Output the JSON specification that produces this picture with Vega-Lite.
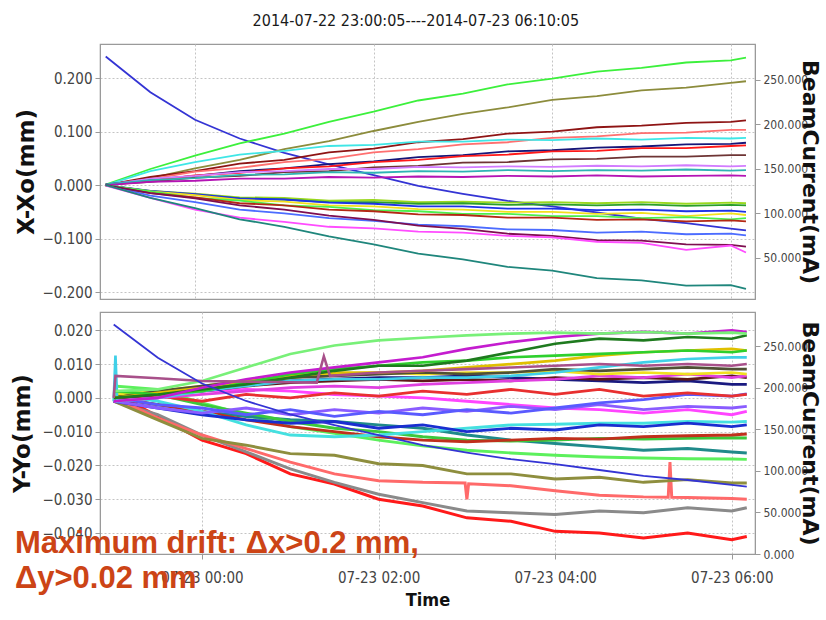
{
"$schema":"https://vega.github.io/schema/vega-lite/v6.json",
"background":"white",
"padding":{"left":10,"top":13,"right":0,"bottom":0},
"title":{"text":"2014-07-22 23:00:05----2014-07-23 06:10:05","font":"DejaVu Sans Condensed, Liberation Sans Narrow, sans-serif","fontSize":16,"fontWeight":"normal","color":"#1a1a1a","anchor":"middle","offset":14},
"spacing":10,
"config":{"view":{"stroke":"#9a9a9a","strokeWidth":1.2},
"axis":{"labelFont":"DejaVu Sans Condensed, Liberation Sans Narrow, sans-serif","labelFontSize":15,"labelColor":"#444","titleFont":"DejaVu Sans","titleFontWeight":"bold","titleFontSize":23,"titleColor":"#111","domainColor":"#9a9a9a","tickColor":"#9a9a9a","tickSize":5,"gridColor":"#c4c4c4","gridDash":[2,2],"gridWidth":1}},
"resolve":{"scale":{"x":"independent","y":"independent","color":"independent","strokeWidth":"independent"}},
"datasets":{
"I":[{"h":-1,"mA":276},{"h":-0.5,"mA":236},{"h":0,"mA":205},{"h":0.5,"mA":184},{"h":1,"mA":168},{"h":1.5,"mA":155},{"h":2,"mA":143},{"h":2.5,"mA":131},{"h":3,"mA":122},{"h":3.5,"mA":114},{"h":4,"mA":108},{"h":4.5,"mA":101},{"h":5,"mA":94},{"h":5.5,"mA":89},{"h":6,"mA":83},{"h":6.17,"mA":81}],
"T":[{"h":-2.118,"v":-0.0459,"t":["Maximum drift: Δx>0.2 mm,","Δy>0.02 mm"]}],
"X":[
{"s":"a01","h":-1,"v":0.001},{"s":"a01","h":-0.5,"v":0.03},{"s":"a01","h":0,"v":0.055},{"s":"a01","h":0.5,"v":0.078},{"s":"a01","h":1,"v":0.096},{"s":"a01","h":1.5,"v":0.118},{"s":"a01","h":2,"v":0.137},{"s":"a01","h":2.5,"v":0.158},{"s":"a01","h":3,"v":0.171},{"s":"a01","h":3.5,"v":0.188},{"s":"a01","h":4,"v":0.199},{"s":"a01","h":4.5,"v":0.212},{"s":"a01","h":5,"v":0.219},{"s":"a01","h":5.5,"v":0.229},{"s":"a01","h":6,"v":0.233},{"s":"a01","h":6.17,"v":0.238},
{"s":"a02","h":-1,"v":0},{"s":"a02","h":-0.5,"v":0.013},{"s":"a02","h":0,"v":0.031},{"s":"a02","h":0.5,"v":0.047},{"s":"a02","h":1,"v":0.067},{"s":"a02","h":1.5,"v":0.082},{"s":"a02","h":2,"v":0.101},{"s":"a02","h":2.5,"v":0.118},{"s":"a02","h":3,"v":0.133},{"s":"a02","h":3.5,"v":0.145},{"s":"a02","h":4,"v":0.159},{"s":"a02","h":4.5,"v":0.166},{"s":"a02","h":5,"v":0.177},{"s":"a02","h":5.5,"v":0.182},{"s":"a02","h":6,"v":0.191},{"s":"a02","h":6.17,"v":0.194},
{"s":"a03","h":-1,"v":0},{"s":"a03","h":-0.5,"v":0.015},{"s":"a03","h":0,"v":0.026},{"s":"a03","h":0.5,"v":0.04},{"s":"a03","h":1,"v":0.047},{"s":"a03","h":1.5,"v":0.061},{"s":"a03","h":2,"v":0.068},{"s":"a03","h":2.5,"v":0.08},{"s":"a03","h":3,"v":0.086},{"s":"a03","h":3.5,"v":0.096},{"s":"a03","h":4,"v":0.1},{"s":"a03","h":4.5,"v":0.108},{"s":"a03","h":5,"v":0.111},{"s":"a03","h":5.5,"v":0.116},{"s":"a03","h":6,"v":0.118},{"s":"a03","h":6.17,"v":0.121},
{"s":"a04","h":-1,"v":0.001},{"s":"a04","h":-0.5,"v":0.011},{"s":"a04","h":0,"v":0.025},{"s":"a04","h":0.5,"v":0.032},{"s":"a04","h":1,"v":0.043},{"s":"a04","h":1.5,"v":0.049},{"s":"a04","h":2,"v":0.061},{"s":"a04","h":2.5,"v":0.067},{"s":"a04","h":3,"v":0.076},{"s":"a04","h":3.5,"v":0.08},{"s":"a04","h":4,"v":0.088},{"s":"a04","h":4.5,"v":0.091},{"s":"a04","h":5,"v":0.097},{"s":"a04","h":5.5,"v":0.098},{"s":"a04","h":6,"v":0.103},{"s":"a04","h":6.17,"v":0.103},
{"s":"a05","h":-1,"v":0},{"s":"a05","h":-0.5,"v":0.026},{"s":"a05","h":0,"v":0.043},{"s":"a05","h":0.5,"v":0.057},{"s":"a05","h":1,"v":0.064},{"s":"a05","h":1.5,"v":0.073},{"s":"a05","h":2,"v":0.075},{"s":"a05","h":2.5,"v":0.081},{"s":"a05","h":3,"v":0.081},{"s":"a05","h":3.5,"v":0.085},{"s":"a05","h":4,"v":0.084},{"s":"a05","h":4.5,"v":0.087},{"s":"a05","h":5,"v":0.085},{"s":"a05","h":5.5,"v":0.088},{"s":"a05","h":6,"v":0.087},{"s":"a05","h":6.17,"v":0.088},
{"s":"a06","h":-1,"v":0.001},{"s":"a06","h":-0.5,"v":0.01},{"s":"a06","h":0,"v":0.017},{"s":"a06","h":0.5,"v":0.026},{"s":"a06","h":1,"v":0.031},{"s":"a06","h":1.5,"v":0.039},{"s":"a06","h":2,"v":0.044},{"s":"a06","h":2.5,"v":0.052},{"s":"a06","h":3,"v":0.056},{"s":"a06","h":3.5,"v":0.063},{"s":"a06","h":4,"v":0.065},{"s":"a06","h":4.5,"v":0.07},{"s":"a06","h":5,"v":0.072},{"s":"a06","h":5.5,"v":0.076},{"s":"a06","h":6,"v":0.077},{"s":"a06","h":6.17,"v":0.079},
{"s":"a07","h":-1,"v":0},{"s":"a07","h":-0.5,"v":0.008},{"s":"a07","h":0,"v":0.018},{"s":"a07","h":0.5,"v":0.023},{"s":"a07","h":1,"v":0.031},{"s":"a07","h":1.5,"v":0.035},{"s":"a07","h":2,"v":0.043},{"s":"a07","h":2.5,"v":0.047},{"s":"a07","h":3,"v":0.054},{"s":"a07","h":3.5,"v":0.057},{"s":"a07","h":4,"v":0.063},{"s":"a07","h":4.5,"v":0.064},{"s":"a07","h":5,"v":0.069},{"s":"a07","h":5.5,"v":0.069},{"s":"a07","h":6,"v":0.073},{"s":"a07","h":6.17,"v":0.074},
{"s":"a08","h":-1,"v":0.001},{"s":"a08","h":-0.5,"v":0.006},{"s":"a08","h":0,"v":0.014},{"s":"a08","h":0.5,"v":0.017},{"s":"a08","h":1,"v":0.024},{"s":"a08","h":1.5,"v":0.026},{"s":"a08","h":2,"v":0.033},{"s":"a08","h":2.5,"v":0.036},{"s":"a08","h":3,"v":0.042},{"s":"a08","h":3.5,"v":0.043},{"s":"a08","h":4,"v":0.048},{"s":"a08","h":4.5,"v":0.049},{"s":"a08","h":5,"v":0.053},{"s":"a08","h":5.5,"v":0.053},{"s":"a08","h":6,"v":0.056},{"s":"a08","h":6.17,"v":0.056},
{"s":"a09","h":-1,"v":0},{"s":"a09","h":-0.5,"v":0.012},{"s":"a09","h":0,"v":0.017},{"s":"a09","h":0.5,"v":0.024},{"s":"a09","h":1,"v":0.026},{"s":"a09","h":1.5,"v":0.03},{"s":"a09","h":2,"v":0.03},{"s":"a09","h":2.5,"v":0.034},{"s":"a09","h":3,"v":0.033},{"s":"a09","h":3.5,"v":0.035},{"s":"a09","h":4,"v":0.034},{"s":"a09","h":4.5,"v":0.036},{"s":"a09","h":5,"v":0.035},{"s":"a09","h":5.5,"v":0.037},{"s":"a09","h":6,"v":0.035},{"s":"a09","h":6.17,"v":0.036},
{"s":"a10","h":-1,"v":0.001},{"s":"a10","h":-0.5,"v":0.009},{"s":"a10","h":0,"v":0.013},{"s":"a10","h":0.5,"v":0.019},{"s":"a10","h":1,"v":0.02},{"s":"a10","h":1.5,"v":0.024},{"s":"a10","h":2,"v":0.023},{"s":"a10","h":2.5,"v":0.026},{"s":"a10","h":3,"v":0.025},{"s":"a10","h":3.5,"v":0.028},{"s":"a10","h":4,"v":0.026},{"s":"a10","h":4.5,"v":0.028},{"s":"a10","h":5,"v":0.027},{"s":"a10","h":5.5,"v":0.029},{"s":"a10","h":6,"v":0.027},{"s":"a10","h":6.17,"v":0.028},
{"s":"a11","h":-1,"v":0},{"s":"a11","h":-0.5,"v":0.006},{"s":"a11","h":0,"v":0.008},{"s":"a11","h":0.5,"v":0.012},{"s":"a11","h":1,"v":0.012},{"s":"a11","h":1.5,"v":0.015},{"s":"a11","h":2,"v":0.014},{"s":"a11","h":2.5,"v":0.016},{"s":"a11","h":3,"v":0.015},{"s":"a11","h":3.5,"v":0.017},{"s":"a11","h":4,"v":0.016},{"s":"a11","h":4.5,"v":0.018},{"s":"a11","h":5,"v":0.016},{"s":"a11","h":5.5,"v":0.017},{"s":"a11","h":6,"v":0.018},{"s":"a11","h":6.17,"v":0.017},
{"s":"a12","h":-1,"v":-0.001},{"s":"a12","h":-0.5,"v":-0.011},{"s":"a12","h":0,"v":-0.016},{"s":"a12","h":0.5,"v":-0.023},{"s":"a12","h":1,"v":-0.024},{"s":"a12","h":1.5,"v":-0.029},{"s":"a12","h":2,"v":-0.028},{"s":"a12","h":2.5,"v":-0.032},{"s":"a12","h":3,"v":-0.031},{"s":"a12","h":3.5,"v":-0.033},{"s":"a12","h":4,"v":-0.032},{"s":"a12","h":4.5,"v":-0.034},{"s":"a12","h":5,"v":-0.032},{"s":"a12","h":5.5,"v":-0.035},{"s":"a12","h":6,"v":-0.033},{"s":"a12","h":6.17,"v":-0.034},
{"s":"a13","h":-1,"v":0},{"s":"a13","h":-0.5,"v":-0.012},{"s":"a13","h":0,"v":-0.018},{"s":"a13","h":0.5,"v":-0.025},{"s":"a13","h":1,"v":-0.027},{"s":"a13","h":1.5,"v":-0.032},{"s":"a13","h":2,"v":-0.032},{"s":"a13","h":2.5,"v":-0.035},{"s":"a13","h":3,"v":-0.034},{"s":"a13","h":3.5,"v":-0.037},{"s":"a13","h":4,"v":-0.036},{"s":"a13","h":4.5,"v":-0.038},{"s":"a13","h":5,"v":-0.036},{"s":"a13","h":5.5,"v":-0.039},{"s":"a13","h":6,"v":-0.037},{"s":"a13","h":6.17,"v":-0.038},
{"s":"a14","h":-1,"v":0},{"s":"a14","h":-0.5,"v":-0.011},{"s":"a14","h":0,"v":-0.017},{"s":"a14","h":0.5,"v":-0.025},{"s":"a14","h":1,"v":-0.027},{"s":"a14","h":1.5,"v":-0.033},{"s":"a14","h":2,"v":-0.035},{"s":"a14","h":2.5,"v":-0.04},{"s":"a14","h":3,"v":-0.04},{"s":"a14","h":3.5,"v":-0.044},{"s":"a14","h":4,"v":-0.044},{"s":"a14","h":4.5,"v":-0.047},{"s":"a14","h":5,"v":-0.046},{"s":"a14","h":5.5,"v":-0.049},{"s":"a14","h":6,"v":-0.048},{"s":"a14","h":6.17,"v":-0.05},
{"s":"a15","h":-1,"v":-0.001},{"s":"a15","h":-0.5,"v":-0.012},{"s":"a15","h":0,"v":-0.019},{"s":"a15","h":0.5,"v":-0.028},{"s":"a15","h":1,"v":-0.031},{"s":"a15","h":1.5,"v":-0.038},{"s":"a15","h":2,"v":-0.04},{"s":"a15","h":2.5,"v":-0.045},{"s":"a15","h":3,"v":-0.046},{"s":"a15","h":3.5,"v":-0.05},{"s":"a15","h":4,"v":-0.05},{"s":"a15","h":4.5,"v":-0.054},{"s":"a15","h":5,"v":-0.052},{"s":"a15","h":5.5,"v":-0.058},{"s":"a15","h":6,"v":-0.053},{"s":"a15","h":6.17,"v":-0.056},
{"s":"a16","h":-1,"v":0},{"s":"a16","h":-0.5,"v":-0.012},{"s":"a16","h":0,"v":-0.024},{"s":"a16","h":0.5,"v":-0.029},{"s":"a16","h":1,"v":-0.038},{"s":"a16","h":1.5,"v":-0.041},{"s":"a16","h":2,"v":-0.047},{"s":"a16","h":2.5,"v":-0.049},{"s":"a16","h":3,"v":-0.054},{"s":"a16","h":3.5,"v":-0.054},{"s":"a16","h":4,"v":-0.058},{"s":"a16","h":4.5,"v":-0.058},{"s":"a16","h":5,"v":-0.062},{"s":"a16","h":5.5,"v":-0.06},{"s":"a16","h":6,"v":-0.064},{"s":"a16","h":6.17,"v":-0.062},
{"s":"a17","h":-1,"v":-0.001},{"s":"a17","h":-0.5,"v":-0.015},{"s":"a17","h":0,"v":-0.023},{"s":"a17","h":0.5,"v":-0.034},{"s":"a17","h":1,"v":-0.038},{"s":"a17","h":1.5,"v":-0.046},{"s":"a17","h":2,"v":-0.049},{"s":"a17","h":2.5,"v":-0.055},{"s":"a17","h":3,"v":-0.056},{"s":"a17","h":3.5,"v":-0.061},{"s":"a17","h":4,"v":-0.061},{"s":"a17","h":4.5,"v":-0.065},{"s":"a17","h":5,"v":-0.064},{"s":"a17","h":5.5,"v":-0.068},{"s":"a17","h":6,"v":-0.066},{"s":"a17","h":6.17,"v":-0.068},
{"s":"a18","h":-1,"v":0},{"s":"a18","h":-0.5,"v":-0.02},{"s":"a18","h":0,"v":-0.032},{"s":"a18","h":0.5,"v":-0.046},{"s":"a18","h":1,"v":-0.053},{"s":"a18","h":1.5,"v":-0.062},{"s":"a18","h":2,"v":-0.067},{"s":"a18","h":2.5,"v":-0.074},{"s":"a18","h":3,"v":-0.077},{"s":"a18","h":3.5,"v":-0.083},{"s":"a18","h":4,"v":-0.084},{"s":"a18","h":4.5,"v":-0.089},{"s":"a18","h":5,"v":-0.087},{"s":"a18","h":5.5,"v":-0.092},{"s":"a18","h":6,"v":-0.091},{"s":"a18","h":6.17,"v":-0.094},
{"s":"a19","h":-1,"v":0},{"s":"a19","h":-0.5,"v":-0.015},{"s":"a19","h":0,"v":-0.025},{"s":"a19","h":0.5,"v":-0.038},{"s":"a19","h":1,"v":-0.046},{"s":"a19","h":1.5,"v":-0.057},{"s":"a19","h":2,"v":-0.065},{"s":"a19","h":2.5,"v":-0.076},{"s":"a19","h":3,"v":-0.082},{"s":"a19","h":3.5,"v":-0.091},{"s":"a19","h":4,"v":-0.095},{"s":"a19","h":4.5,"v":-0.103},{"s":"a19","h":5,"v":-0.104},{"s":"a19","h":5.5,"v":-0.111},{"s":"a19","h":6,"v":-0.112},{"s":"a19","h":6.17,"v":-0.115},
{"s":"a20","h":-1,"v":-0.001},{"s":"a20","h":-0.5,"v":-0.024},{"s":"a20","h":0,"v":-0.046},{"s":"a20","h":0.5,"v":-0.061},{"s":"a20","h":1,"v":-0.069},{"s":"a20","h":1.5,"v":-0.078},{"s":"a20","h":2,"v":-0.081},{"s":"a20","h":2.5,"v":-0.087},{"s":"a20","h":3,"v":-0.089},{"s":"a20","h":3.5,"v":-0.095},{"s":"a20","h":4,"v":-0.098},{"s":"a20","h":4.5,"v":-0.106},{"s":"a20","h":5,"v":-0.108},{"s":"a20","h":5.5,"v":-0.121},{"s":"a20","h":6,"v":-0.113},{"s":"a20","h":6.17,"v":-0.126},
{"s":"a21","h":-1,"v":0},{"s":"a21","h":-0.5,"v":-0.024},{"s":"a21","h":0,"v":-0.043},{"s":"a21","h":0.5,"v":-0.064},{"s":"a21","h":1,"v":-0.078},{"s":"a21","h":1.5,"v":-0.096},{"s":"a21","h":2,"v":-0.111},{"s":"a21","h":2.5,"v":-0.128},{"s":"a21","h":3,"v":-0.139},{"s":"a21","h":3.5,"v":-0.153},{"s":"a21","h":4,"v":-0.16},{"s":"a21","h":4.5,"v":-0.174},{"s":"a21","h":5,"v":-0.178},{"s":"a21","h":5.5,"v":-0.188},{"s":"a21","h":6,"v":-0.187},{"s":"a21","h":6.17,"v":-0.194}
],
"Y":[
{"s":"b01","h":-1,"v":0.0015},{"s":"b01","h":-0.5,"v":-0.0055},{"s":"b01","h":0,"v":-0.0125},{"s":"b01","h":0.5,"v":-0.0165},{"s":"b01","h":1,"v":-0.0225},{"s":"b01","h":1.5,"v":-0.0255},{"s":"b01","h":2,"v":-0.03},{"s":"b01","h":2.5,"v":-0.032},{"s":"b01","h":3,"v":-0.0355},{"s":"b01","h":3.5,"v":-0.0365},{"s":"b01","h":4,"v":-0.0395},{"s":"b01","h":4.5,"v":-0.04},{"s":"b01","h":5,"v":-0.0415},{"s":"b01","h":5.5,"v":-0.04},{"s":"b01","h":6,"v":-0.042},{"s":"b01","h":6.17,"v":-0.041},
{"s":"b02","h":-1,"v":-0.001},{"s":"b02","h":-0.5,"v":-0.005},{"s":"b02","h":0,"v":-0.011},{"s":"b02","h":0.5,"v":-0.016},{"s":"b02","h":1,"v":-0.021},{"s":"b02","h":1.5,"v":-0.025},{"s":"b02","h":2,"v":-0.0285},{"s":"b02","h":2.5,"v":-0.031},{"s":"b02","h":3,"v":-0.0335},{"s":"b02","h":3.5,"v":-0.034},{"s":"b02","h":4,"v":-0.0345},{"s":"b02","h":4.5,"v":-0.0335},{"s":"b02","h":5,"v":-0.034},{"s":"b02","h":5.5,"v":-0.0325},{"s":"b02","h":6,"v":-0.0335},{"s":"b02","h":6.17,"v":-0.0325},
{"s":"b03","h":-1,"v":0},{"s":"b03","h":-0.5,"v":-0.006},{"s":"b03","h":0,"v":-0.011},{"s":"b03","h":0.5,"v":-0.015},{"s":"b03","h":1,"v":-0.019},{"s":"b03","h":1.5,"v":-0.0225},{"s":"b03","h":2,"v":-0.0245},{"s":"b03","h":2.5,"v":-0.025},{"s":"b03","h":2.98,"v":-0.0252},{"s":"b03","h":3,"v":-0.03},{"s":"b03","h":3.02,"v":-0.0254},{"s":"b03","h":3.5,"v":-0.026},{"s":"b03","h":4,"v":-0.0275},{"s":"b03","h":4.5,"v":-0.0288},{"s":"b03","h":5,"v":-0.0293},{"s":"b03","h":5.28,"v":-0.0294},{"s":"b03","h":5.3,"v":-0.019},{"s":"b03","h":5.32,"v":-0.0294},{"s":"b03","h":5.5,"v":-0.0295},{"s":"b03","h":6,"v":-0.0298},{"s":"b03","h":6.17,"v":-0.03},
{"s":"b04","h":-1,"v":-0.001},{"s":"b04","h":-0.5,"v":-0.0065},{"s":"b04","h":0,"v":-0.012},{"s":"b04","h":0.5,"v":-0.014},{"s":"b04","h":1,"v":-0.0165},{"s":"b04","h":1.5,"v":-0.017},{"s":"b04","h":2,"v":-0.0195},{"s":"b04","h":2.5,"v":-0.02},{"s":"b04","h":3,"v":-0.0225},{"s":"b04","h":3.5,"v":-0.0225},{"s":"b04","h":4,"v":-0.024},{"s":"b04","h":4.5,"v":-0.0235},{"s":"b04","h":5,"v":-0.025},{"s":"b04","h":5.5,"v":-0.0242},{"s":"b04","h":6,"v":-0.0252},{"s":"b04","h":6.17,"v":-0.0252},
{"s":"b05","h":-1,"v":0.0035},{"s":"b05","h":-0.5,"v":0.0025},{"s":"b05","h":0,"v":-0.0015},{"s":"b05","h":0.5,"v":-0.005},{"s":"b05","h":1,"v":-0.0085},{"s":"b05","h":1.5,"v":-0.0105},{"s":"b05","h":2,"v":-0.0125},{"s":"b05","h":2.5,"v":-0.0142},{"s":"b05","h":3,"v":-0.0155},{"s":"b05","h":3.5,"v":-0.0163},{"s":"b05","h":4,"v":-0.017},{"s":"b05","h":4.5,"v":-0.0175},{"s":"b05","h":5,"v":-0.0178},{"s":"b05","h":5.5,"v":-0.018},{"s":"b05","h":6,"v":-0.0181},{"s":"b05","h":6.17,"v":-0.0182},
{"s":"b06","h":-1,"v":0},{"s":"b06","h":-0.5,"v":-0.002},{"s":"b06","h":0,"v":-0.004},{"s":"b06","h":0.5,"v":-0.0055},{"s":"b06","h":1,"v":-0.0065},{"s":"b06","h":1.5,"v":-0.007},{"s":"b06","h":2,"v":-0.008},{"s":"b06","h":2.5,"v":-0.009},{"s":"b06","h":3,"v":-0.011},{"s":"b06","h":3.5,"v":-0.0125},{"s":"b06","h":4,"v":-0.0135},{"s":"b06","h":4.5,"v":-0.0145},{"s":"b06","h":5,"v":-0.0155},{"s":"b06","h":5.5,"v":-0.015},{"s":"b06","h":6,"v":-0.016},{"s":"b06","h":6.17,"v":-0.0163},
{"s":"b07","h":-1,"v":0.002},{"s":"b07","h":-0.5,"v":0.001},{"s":"b07","h":0,"v":-0.002},{"s":"b07","h":0.5,"v":-0.0045},{"s":"b07","h":1,"v":-0.007},{"s":"b07","h":1.5,"v":-0.009},{"s":"b07","h":2,"v":-0.01},{"s":"b07","h":2.5,"v":-0.0115},{"s":"b07","h":3,"v":-0.0125},{"s":"b07","h":3.5,"v":-0.0128},{"s":"b07","h":4,"v":-0.0125},{"s":"b07","h":4.5,"v":-0.012},{"s":"b07","h":5,"v":-0.0122},{"s":"b07","h":5.5,"v":-0.012},{"s":"b07","h":6,"v":-0.0118},{"s":"b07","h":6.17,"v":-0.0119},
{"s":"b08","h":-1,"v":0},{"s":"b08","h":-0.5,"v":-0.002},{"s":"b08","h":0,"v":-0.004},{"s":"b08","h":0.5,"v":-0.0065},{"s":"b08","h":1,"v":-0.0085},{"s":"b08","h":1.5,"v":-0.01},{"s":"b08","h":2,"v":-0.0115},{"s":"b08","h":2.5,"v":-0.0125},{"s":"b08","h":3,"v":-0.013},{"s":"b08","h":3.5,"v":-0.0125},{"s":"b08","h":4,"v":-0.012},{"s":"b08","h":4.5,"v":-0.0122},{"s":"b08","h":5,"v":-0.0115},{"s":"b08","h":5.5,"v":-0.0112},{"s":"b08","h":6,"v":-0.011},{"s":"b08","h":6.17,"v":-0.0107},
{"s":"b09","h":-1,"v":0.001},{"s":"b09","h":-0.5,"v":-0.001},{"s":"b09","h":0,"v":-0.004},{"s":"b09","h":0.5,"v":-0.008},{"s":"b09","h":1,"v":-0.011},{"s":"b09","h":1.5,"v":-0.0115},{"s":"b09","h":2,"v":-0.011},{"s":"b09","h":2.5,"v":-0.01},{"s":"b09","h":3,"v":-0.009},{"s":"b09","h":3.5,"v":-0.008},{"s":"b09","h":4,"v":-0.0078},{"s":"b09","h":4.5,"v":-0.0075},{"s":"b09","h":5,"v":-0.0075},{"s":"b09","h":5.5,"v":-0.007},{"s":"b09","h":6,"v":-0.0072},{"s":"b09","h":6.17,"v":-0.007},
{"s":"b10","h":-1,"v":-0.001},{"s":"b10","h":-0.5,"v":-0.003},{"s":"b10","h":0,"v":-0.005},{"s":"b10","h":0.5,"v":-0.0065},{"s":"b10","h":1,"v":-0.0075},{"s":"b10","h":1.5,"v":-0.007},{"s":"b10","h":2,"v":-0.009},{"s":"b10","h":2.5,"v":-0.008},{"s":"b10","h":3,"v":-0.01},{"s":"b10","h":3.5,"v":-0.009},{"s":"b10","h":4,"v":-0.0095},{"s":"b10","h":4.5,"v":-0.008},{"s":"b10","h":5,"v":-0.0085},{"s":"b10","h":5.5,"v":-0.0075},{"s":"b10","h":6,"v":-0.0085},{"s":"b10","h":6.17,"v":-0.008},
{"s":"b11","h":-1,"v":0},{"s":"b11","h":-0.5,"v":0.001},{"s":"b11","h":0,"v":0.002},{"s":"b11","h":0.5,"v":0.0025},{"s":"b11","h":1,"v":0.002},{"s":"b11","h":1.5,"v":0.001},{"s":"b11","h":2,"v":0.0005},{"s":"b11","h":2.5,"v":0},{"s":"b11","h":3,"v":-0.001},{"s":"b11","h":3.5,"v":-0.002},{"s":"b11","h":4,"v":-0.003},{"s":"b11","h":4.5,"v":-0.0035},{"s":"b11","h":5,"v":-0.0045},{"s":"b11","h":5.5,"v":-0.0035},{"s":"b11","h":6,"v":-0.005},{"s":"b11","h":6.17,"v":-0.004},
{"s":"b12","h":-1,"v":-0.001},{"s":"b12","h":-0.5,"v":-0.003},{"s":"b12","h":0,"v":-0.0045},{"s":"b12","h":0.5,"v":-0.003},{"s":"b12","h":1,"v":-0.005},{"s":"b12","h":1.5,"v":-0.0035},{"s":"b12","h":2,"v":-0.0045},{"s":"b12","h":2.5,"v":-0.003},{"s":"b12","h":3,"v":-0.004},{"s":"b12","h":3.5,"v":-0.0025},{"s":"b12","h":4,"v":-0.0035},{"s":"b12","h":4.5,"v":-0.002},{"s":"b12","h":5,"v":-0.0035},{"s":"b12","h":5.5,"v":-0.0025},{"s":"b12","h":6,"v":-0.003},{"s":"b12","h":6.17,"v":-0.0025},
{"s":"b13","h":-1,"v":0},{"s":"b13","h":-0.5,"v":-0.002},{"s":"b13","h":0,"v":-0.003},{"s":"b13","h":0.5,"v":-0.005},{"s":"b13","h":1,"v":-0.0035},{"s":"b13","h":1.5,"v":-0.0055},{"s":"b13","h":2,"v":-0.004},{"s":"b13","h":2.5,"v":-0.005},{"s":"b13","h":3,"v":-0.0035},{"s":"b13","h":3.5,"v":-0.0045},{"s":"b13","h":4,"v":-0.003},{"s":"b13","h":4.5,"v":-0.0015},{"s":"b13","h":5,"v":-0.0005},{"s":"b13","h":5.5,"v":0.001},{"s":"b13","h":6,"v":0.0005},{"s":"b13","h":6.17,"v":0.0012},
{"s":"b14","h":-1,"v":0},{"s":"b14","h":-0.5,"v":0.0005},{"s":"b14","h":0,"v":-0.001},{"s":"b14","h":0.5,"v":0.001},{"s":"b14","h":1,"v":0},{"s":"b14","h":1.5,"v":0.0015},{"s":"b14","h":2,"v":0.0005},{"s":"b14","h":2.5,"v":0.002},{"s":"b14","h":3,"v":0.001},{"s":"b14","h":3.5,"v":0.0025},{"s":"b14","h":4,"v":0.001},{"s":"b14","h":4.5,"v":0.0025},{"s":"b14","h":5,"v":0.0005},{"s":"b14","h":5.5,"v":0.0015},{"s":"b14","h":6,"v":0.0005},{"s":"b14","h":6.17,"v":0.001},
{"s":"b15","h":-1,"v":0},{"s":"b15","h":-0.5,"v":0.001},{"s":"b15","h":0,"v":0.003},{"s":"b15","h":0.5,"v":0.004},{"s":"b15","h":1,"v":0.005},{"s":"b15","h":1.5,"v":0.0055},{"s":"b15","h":2,"v":0.006},{"s":"b15","h":2.5,"v":0.006},{"s":"b15","h":3,"v":0.0065},{"s":"b15","h":3.5,"v":0.006},{"s":"b15","h":4,"v":0.0055},{"s":"b15","h":4.5,"v":0.005},{"s":"b15","h":5,"v":0.0045},{"s":"b15","h":5.5,"v":0.005},{"s":"b15","h":6,"v":0.004},{"s":"b15","h":6.17,"v":0.004},
{"s":"b16","h":-1,"v":0.0005},{"s":"b16","h":-0.5,"v":0.0015},{"s":"b16","h":0,"v":0.002},{"s":"b16","h":0.5,"v":0.0035},{"s":"b16","h":1,"v":0.0045},{"s":"b16","h":1.5,"v":0.005},{"s":"b16","h":2,"v":0.0055},{"s":"b16","h":2.5,"v":0.005},{"s":"b16","h":3,"v":0.0055},{"s":"b16","h":3.5,"v":0.005},{"s":"b16","h":4,"v":0.006},{"s":"b16","h":4.5,"v":0.0055},{"s":"b16","h":5,"v":0.006},{"s":"b16","h":5.5,"v":0.0055},{"s":"b16","h":6,"v":0.0065},{"s":"b16","h":6.17,"v":0.006},
{"s":"b17","h":-1,"v":-0.001},{"s":"b17","h":-0.5,"v":0},{"s":"b17","h":0,"v":0.001},{"s":"b17","h":0.5,"v":0.002},{"s":"b17","h":1,"v":0.003},{"s":"b17","h":1.5,"v":0.0035},{"s":"b17","h":2,"v":0.003},{"s":"b17","h":2.5,"v":0.004},{"s":"b17","h":3,"v":0.0045},{"s":"b17","h":3.5,"v":0.005},{"s":"b17","h":4,"v":0.0055},{"s":"b17","h":4.5,"v":0.0065},{"s":"b17","h":5,"v":0.006},{"s":"b17","h":5.5,"v":0.007},{"s":"b17","h":6,"v":0.006},{"s":"b17","h":6.17,"v":0.0065},
{"s":"b18","h":-1,"v":0.001},{"s":"b18","h":-0.5,"v":0.002},{"s":"b18","h":0,"v":0.0035},{"s":"b18","h":0.5,"v":0.005},{"s":"b18","h":1,"v":0.006},{"s":"b18","h":1.5,"v":0.007},{"s":"b18","h":2,"v":0.0075},{"s":"b18","h":2.5,"v":0.007},{"s":"b18","h":3,"v":0.0075},{"s":"b18","h":3.5,"v":0.0075},{"s":"b18","h":4,"v":0.008},{"s":"b18","h":4.5,"v":0.007},{"s":"b18","h":5,"v":0.0075},{"s":"b18","h":5.5,"v":0.007},{"s":"b18","h":6,"v":0.0075},{"s":"b18","h":6.17,"v":0.007},
{"s":"b19","h":-1,"v":0},{"s":"b19","h":-0.5,"v":0.002},{"s":"b19","h":0,"v":0.0035},{"s":"b19","h":0.5,"v":0.005},{"s":"b19","h":1,"v":0.006},{"s":"b19","h":1.5,"v":0.0065},{"s":"b19","h":2,"v":0.007},{"s":"b19","h":2.5,"v":0.0075},{"s":"b19","h":3,"v":0.007},{"s":"b19","h":3.5,"v":0.0075},{"s":"b19","h":4,"v":0.0085},{"s":"b19","h":4.5,"v":0.008},{"s":"b19","h":5,"v":0.0085},{"s":"b19","h":5.5,"v":0.009},{"s":"b19","h":6,"v":0.0085},{"s":"b19","h":6.17,"v":0.0085},
{"s":"b20","h":-1,"v":-0.001},{"s":"b20","h":-0.98,"v":0.0125},{"s":"b20","h":-0.96,"v":-0.001},{"s":"b20","h":-0.5,"v":0},{"s":"b20","h":0,"v":0.002},{"s":"b20","h":0.5,"v":0.0035},{"s":"b20","h":1,"v":0.005},{"s":"b20","h":1.5,"v":0.0055},{"s":"b20","h":2,"v":0.0055},{"s":"b20","h":2.5,"v":0.006},{"s":"b20","h":3,"v":0.006},{"s":"b20","h":3.5,"v":0.0065},{"s":"b20","h":4,"v":0.0075},{"s":"b20","h":4.5,"v":0.009},{"s":"b20","h":5,"v":0.0105},{"s":"b20","h":5.5,"v":0.0115},{"s":"b20","h":6,"v":0.012},{"s":"b20","h":6.17,"v":0.012},
{"s":"b21","h":-1,"v":0},{"s":"b21","h":-0.5,"v":0.0015},{"s":"b21","h":0,"v":0.003},{"s":"b21","h":0.5,"v":0.005},{"s":"b21","h":1,"v":0.0065},{"s":"b21","h":1.5,"v":0.0075},{"s":"b21","h":2,"v":0.0075},{"s":"b21","h":2.5,"v":0.008},{"s":"b21","h":3,"v":0.009},{"s":"b21","h":3.5,"v":0.01},{"s":"b21","h":4,"v":0.011},{"s":"b21","h":4.5,"v":0.0125},{"s":"b21","h":5,"v":0.0135},{"s":"b21","h":5.5,"v":0.014},{"s":"b21","h":6,"v":0.0145},{"s":"b21","h":6.17,"v":0.014},
{"s":"b22","h":-1,"v":0.002},{"s":"b22","h":-0.5,"v":0.001},{"s":"b22","h":0,"v":0.002},{"s":"b22","h":0.5,"v":0.0045},{"s":"b22","h":1,"v":0.007},{"s":"b22","h":1.5,"v":0.0085},{"s":"b22","h":2,"v":0.0095},{"s":"b22","h":2.5,"v":0.0105},{"s":"b22","h":3,"v":0.011},{"s":"b22","h":3.5,"v":0.012},{"s":"b22","h":4,"v":0.0125},{"s":"b22","h":4.5,"v":0.013},{"s":"b22","h":5,"v":0.0135},{"s":"b22","h":5.5,"v":0.014},{"s":"b22","h":6,"v":0.0135},{"s":"b22","h":6.17,"v":0.014},
{"s":"b23","h":-1,"v":0},{"s":"b23","h":-0.5,"v":0.001},{"s":"b23","h":0,"v":0.0025},{"s":"b23","h":0.5,"v":0.004},{"s":"b23","h":1,"v":0.006},{"s":"b23","h":1.5,"v":0.008},{"s":"b23","h":2,"v":0.0095},{"s":"b23","h":2.5,"v":0.0095},{"s":"b23","h":3,"v":0.011},{"s":"b23","h":3.5,"v":0.0135},{"s":"b23","h":4,"v":0.016},{"s":"b23","h":4.5,"v":0.0175},{"s":"b23","h":5,"v":0.017},{"s":"b23","h":5.5,"v":0.018},{"s":"b23","h":6,"v":0.0175},{"s":"b23","h":6.17,"v":0.0185},
{"s":"b24","h":-1,"v":-0.001},{"s":"b24","h":-0.5,"v":0},{"s":"b24","h":0,"v":0.003},{"s":"b24","h":0.5,"v":0.0055},{"s":"b24","h":1,"v":0.0075},{"s":"b24","h":1.5,"v":0.009},{"s":"b24","h":2,"v":0.0105},{"s":"b24","h":2.5,"v":0.012},{"s":"b24","h":3,"v":0.0145},{"s":"b24","h":3.5,"v":0.0165},{"s":"b24","h":4,"v":0.018},{"s":"b24","h":4.5,"v":0.019},{"s":"b24","h":5,"v":0.0195},{"s":"b24","h":5.5,"v":0.019},{"s":"b24","h":6,"v":0.02},{"s":"b24","h":6.17,"v":0.0195},
{"s":"b25","h":-1,"v":0.002},{"s":"b25","h":-0.5,"v":0.0025},{"s":"b25","h":0,"v":0.005},{"s":"b25","h":0.5,"v":0.009},{"s":"b25","h":1,"v":0.013},{"s":"b25","h":1.5,"v":0.0155},{"s":"b25","h":2,"v":0.017},{"s":"b25","h":2.5,"v":0.0178},{"s":"b25","h":3,"v":0.0185},{"s":"b25","h":3.5,"v":0.019},{"s":"b25","h":4,"v":0.0193},{"s":"b25","h":4.5,"v":0.019},{"s":"b25","h":5,"v":0.0195},{"s":"b25","h":5.5,"v":0.019},{"s":"b25","h":6,"v":0.0193},{"s":"b25","h":6.17,"v":0.019},
{"s":"b26","h":-1,"v":0},{"s":"b26","h":-0.98,"v":0.0065},{"s":"b26","h":-0.5,"v":0.0058},{"s":"b26","h":0,"v":0.005},{"s":"b26","h":0.5,"v":0.0048},{"s":"b26","h":1,"v":0.0046},{"s":"b26","h":1.3,"v":0.0045},{"s":"b26","h":1.38,"v":0.0123},{"s":"b26","h":1.45,"v":0.0065},{"s":"b26","h":2,"v":0.0075},{"s":"b26","h":2.5,"v":0.008},{"s":"b26","h":3,"v":0.0085},{"s":"b26","h":3.5,"v":0.009},{"s":"b26","h":4,"v":0.0095},{"s":"b26","h":4.5,"v":0.01},{"s":"b26","h":5,"v":0.0095},{"s":"b26","h":5.5,"v":0.01},{"s":"b26","h":6,"v":0.0095},{"s":"b26","h":6.17,"v":0.01}
]},
"vconcat":[
{"width":655,"height":255,
"layer":[
{"data":{"name":"I"},"mark":{"type":"line","color":"#3434d4","strokeWidth":1.8},
"encoding":{"x":{"field":"h","type":"quantitative","scale":{"domain":[-1.064,6.271],"nice":false,"zero":false},"axis":{"values":[0,2,4,6],"labels":false,"ticks":false,"domain":false,"title":null,"grid":true}},
"y":{"field":"mA","type":"quantitative","scale":{"domain":[4,290],"nice":false,"zero":false},"axis":{"orient":"right","values":[50,100,150,200,250],"format":".3f","grid":false,"labelFontSize":12,"labelPadding":3,"title":"BeamCurrent(mA)","titleFontSize":22,"titlePadding":-10}}}},
{"data":{"name":"X"},"mark":{"type":"line","strokeWidth":1.8},
"encoding":{"x":{"field":"h","type":"quantitative"},
"y":{"field":"v","type":"quantitative","scale":{"domain":[-0.213,0.2636],"nice":false,"zero":false},"axis":{"orient":"left","values":[-0.2,-0.1,0,0.1,0.2],"format":".3f","grid":true,"labelPadding":3,"title":"X-Xo(mm)","titlePadding":4}},
"color":{"field":"s","type":"nominal","legend":null,"scale":{"domain":["a01","a02","a03","a04","a05","a06","a07","a08","a09","a10","a11","a12","a13","a14","a15","a16","a17","a18","a19","a20","a21"],"range":["#3cf03c","#8c8c3c","#8e1414","#ff7070","#3fe6e6","#161678","#ff1818","#6e3434","#d27cff","#2fb4b4","#b414b4","#9ad81e","#2a9e2a","#1e32e6","#f2e01e","#4cf04c","#b42814","#4c6cff","#7e0e50","#ff4cff","#1f867c"]}}}}
],
"resolve":{"scale":{"y":"independent"}}},
{"width":655,"height":242,
"layer":[
{"data":{"name":"Y"},"mark":{"type":"line"},
"encoding":{"x":{"field":"h","type":"quantitative","scale":{"domain":[-1.155,6.263],"nice":false,"zero":false},"axis":{"values":[0,2,4,6],"labelExpr":"'07-23 0' + datum.value + ':00'","grid":true,"labelPadding":11,"title":"Time","titleFont":"DejaVu Sans Condensed, sans-serif","titleFontSize":18,"titlePadding":6}},
"y":{"field":"v","type":"quantitative","scale":{"domain":[-0.0462,0.0254],"nice":false,"zero":false},"axis":{"orient":"left","values":[-0.04,-0.03,-0.02,-0.01,0,0.01,0.02],"format":".3f","grid":true,"labelPadding":3,"title":"Y-Yo(mm)","titlePadding":8}},
"color":{"field":"s","type":"nominal","legend":null,"scale":{"domain":["b01","b02","b03","b04","b05","b06","b07","b08","b09","b10","b11","b12","b13","b14","b15","b16","b17","b18","b19","b20","b21","b22","b23","b24","b25","b26"],"range":["#ff1a1a","#8a8a8a","#ff6a6a","#8e8e3e","#5cf05c","#1f8a8a","#3cc83c","#c0301c","#45e0e0","#1a2ed0","#ff45ff","#8a5cff","#5a5aff","#e83030","#1a1a80","#5e1818","#e040e0","#f0e020","#505035","#40d0e8","#e0c000","#2ed02e","#1e7a1e","#c41ccf","#78f078","#a8508a"]}},
"strokeWidth":{"field":"s","type":"nominal","legend":null,"scale":{"domain":["b01","b02","b03","b04","b05","b06","b07","b08","b09","b10","b11","b12","b13","b14","b15","b16","b17","b18","b19","b20","b21","b22","b23","b24","b25","b26"],"range":[3,2.6,1.4,1.6,3,1.6,1.6,1.4,1.6,2.2,2.6,1.6,1.6,1.6,1.6,1.4,1.6,1.6,1.4,1.4,1.6,2.6,1.8,2.6,4,1.4]}}}},
{"data":{"name":"I"},"mark":{"type":"line","color":"#3434d4","strokeWidth":1.8},
"encoding":{"x":{"field":"h","type":"quantitative"},
"y":{"field":"mA","type":"quantitative","scale":{"domain":[0,291],"nice":false,"zero":false},"axis":{"orient":"right","values":[0,50,100,150,200,250],"format":".3f","grid":false,"labelFontSize":12,"labelPadding":3,"title":"BeamCurrent(mA)","titleFontSize":22,"titlePadding":-10}}}},
{"data":{"name":"T"},"mark":{"type":"text","align":"left","baseline":"alphabetic","font":"Liberation Sans, Arial, sans-serif","fontWeight":"bold","fontSize":31,"lineHeight":35,"color":"#cc4416"},
"encoding":{"x":{"field":"h","type":"quantitative"},"y":{"field":"v","type":"quantitative","scale":{"domain":[-0.0462,0.0254],"nice":false,"zero":false},"axis":null},"text":{"field":"t"}}}
],
"resolve":{"scale":{"y":"independent"}}}
]
}
